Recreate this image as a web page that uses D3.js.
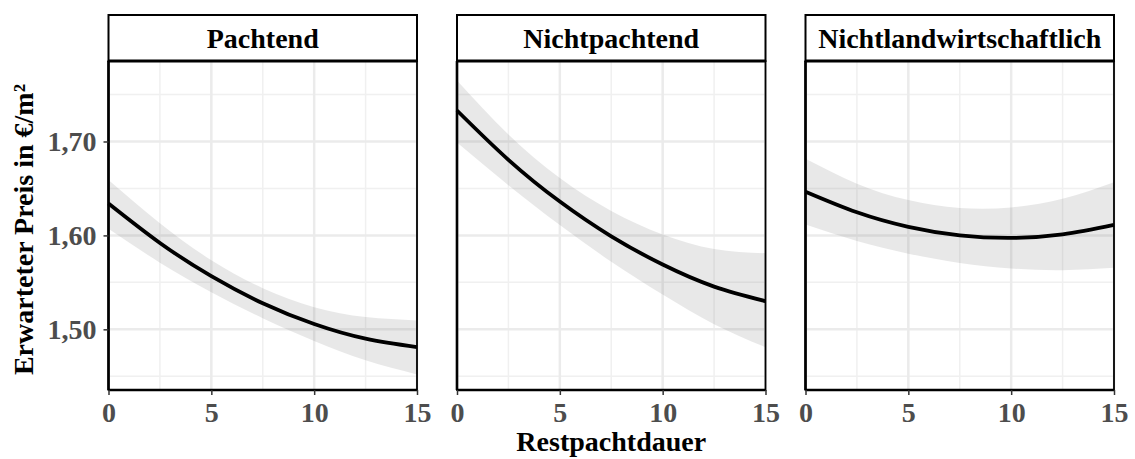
<!DOCTYPE html>
<html><head><meta charset="utf-8">
<script src="https://cdn.jsdelivr.net/npm/d3@7"></script>
<style>body{margin:0;background:#fff}svg{display:block}</style>
</head><body>
<svg id="c" width="1135" height="459"></svg>
<script>
const panels = ["Pachtend", "Nichtpachtend", "Nichtlandwirtschaftlich"];
const xs = [0, 2.5, 5, 7.5, 10, 12.5, 15];
const fitPachtend = [1.634, 1.592, 1.5566, 1.5278, 1.5056, 1.4900, 1.4810];
const lowPachtend = [1.607, 1.571, 1.5396, 1.5118, 1.4876, 1.4670, 1.4520];
const uppPachtend = [1.659, 1.613, 1.5736, 1.5438, 1.5236, 1.5130, 1.5095];
const fitNicht = [1.733, 1.6805, 1.6360, 1.5990, 1.5690, 1.5455, 1.5300];
const lowNicht = [1.699, 1.6535, 1.6110, 1.5720, 1.5370, 1.5055, 1.4810];
const uppNicht = [1.765, 1.7075, 1.6610, 1.6260, 1.6010, 1.5855, 1.5810];
const fitNL = [1.6465, 1.6246, 1.6091, 1.6000, 1.5973, 1.6010, 1.6111];
const lowNL = [1.6115, 1.5941, 1.5806, 1.5707, 1.5648, 1.5630, 1.5656];
const uppNL = [1.6815, 1.6551, 1.6376, 1.6293, 1.6298, 1.6390, 1.6566];
const yTicks = [1.5, 1.6, 1.7];
const yMinor = [1.45, 1.55, 1.65, 1.75];
const xTicks = [0, 5, 10, 15];
const xMinor = [2.5, 7.5, 12.5];
const yTitle = "Erwarteter Preis in €/m²";
const xTitle = "Restpachtdauer";

const series = [
  {name: panels[0], fit: fitPachtend, low: lowPachtend, upp: uppPachtend},
  {name: panels[1], fit: fitNicht, low: lowNicht, upp: uppNicht},
  {name: panels[2], fit: fitNL, low: lowNL, upp: uppNL}
];

const svg = d3.select("#c");
const font = "'Liberation Serif','Times New Roman',serif";
const fs = 28;
const panelLeft = [108.5, 457, 805.5];
const pw = 308.5;
const plotTop = 61, plotBottom = 390, stripTop = 15;

const y = d3.scaleLinear().domain([1.4354, 1.7857]).range([plotBottom, plotTop]);

series.forEach((s, i) => {
  const x0 = panelLeft[i];
  const x = d3.scaleLinear().domain([0, 15]).range([x0, x0 + pw]);
  const g = svg.append("g");
  g.append("rect").attr("x", x0).attr("y", plotTop).attr("width", pw).attr("height", plotBottom - plotTop).attr("fill", "#fff");
  g.selectAll(".ym").data(yMinor).join("line")
    .attr("x1", x0).attr("x2", x0 + pw).attr("y1", d => y(d)).attr("y2", d => y(d))
    .attr("stroke", "#f0f0f0").attr("stroke-width", 1.5);
  g.selectAll(".xm").data(xMinor).join("line")
    .attr("y1", plotTop).attr("y2", plotBottom).attr("x1", d => x(d)).attr("x2", d => x(d))
    .attr("stroke", "#f0f0f0").attr("stroke-width", 1.5);
  g.selectAll(".yM").data(yTicks).join("line")
    .attr("x1", x0).attr("x2", x0 + pw).attr("y1", d => y(d)).attr("y2", d => y(d))
    .attr("stroke", "#ebebeb").attr("stroke-width", 2.5);
  g.selectAll(".xM").data(xTicks).join("line")
    .attr("y1", plotTop).attr("y2", plotBottom).attr("x1", d => x(d)).attr("x2", d => x(d))
    .attr("stroke", "#ebebeb").attr("stroke-width", 2.5);

  const data = xs.map((v, k) => ({x: v, fit: s.fit[k], low: s.low[k], upp: s.upp[k]}));
  const area = d3.area().x(d => x(d.x)).y0(d => y(d.low)).y1(d => y(d.upp)).curve(d3.curveNatural);
  g.append("path").attr("d", area(data)).attr("fill", "#7f7f7f").attr("fill-opacity", 0.18);
  const line = d3.line().x(d => x(d.x)).y(d => y(d.fit)).curve(d3.curveNatural);
  g.append("path").attr("d", line(data)).attr("fill", "none").attr("stroke", "#000").attr("stroke-width", 3.8);

  g.append("rect").attr("x", x0).attr("y", plotTop).attr("width", pw).attr("height", plotBottom - plotTop)
    .attr("fill", "none").attr("stroke", "#000").attr("stroke-width", 1.8);
  g.append("line").attr("x1", x0).attr("x2", x0).attr("y1", plotTop).attr("y2", plotBottom).attr("stroke", "#000").attr("stroke-width", 2.6);
  g.append("line").attr("x1", x0).attr("x2", x0 + pw).attr("y1", plotBottom).attr("y2", plotBottom).attr("stroke", "#000").attr("stroke-width", 2.6);

  g.append("rect").attr("x", x0).attr("y", stripTop).attr("width", pw).attr("height", plotTop - stripTop)
    .attr("fill", "#fff").attr("stroke", "#000").attr("stroke-width", 2);
  g.append("line").attr("x1", x0).attr("x2", x0 + pw).attr("y1", plotTop).attr("y2", plotTop).attr("stroke", "#000").attr("stroke-width", 3);
  g.append("text").attr("x", x0 + pw / 2).attr("y", 48).attr("text-anchor", "middle")
    .attr("font-family", font).attr("font-weight", "bold").attr("font-size", fs).attr("fill", "#000").text(s.name);

  const xa = g.append("g").attr("transform", `translate(0,${plotBottom})`)
    .call(d3.axisBottom(x).tickValues(xTicks).tickSize(5).tickPadding(7).tickFormat(d3.format("d")));
  xa.select(".domain").remove();
  xa.selectAll("line").attr("stroke", "#333").attr("stroke-width", 1.5);
  xa.selectAll("text").attr("font-family", font).attr("font-weight", "bold").attr("font-size", fs).attr("fill", "#4d4d4d");

  if (i === 0) {
    const ya = g.append("g").attr("transform", `translate(${x0},0)`)
      .call(d3.axisLeft(y).tickValues(yTicks).tickSize(5).tickPadding(7).tickFormat(d => d3.format(".2f")(d).replace(".", ",")));
    ya.select(".domain").remove();
    ya.selectAll("line").attr("stroke", "#333").attr("stroke-width", 1.5);
    ya.selectAll("text").attr("font-family", font).attr("font-weight", "bold").attr("font-size", fs).attr("fill", "#4d4d4d");
  }
});

svg.append("text").attr("transform", `translate(33,${(plotTop + plotBottom) / 2 + 4}) rotate(-90)`)
  .attr("text-anchor", "middle").attr("font-family", font).attr("font-weight", "bold").attr("font-size", fs)
  .attr("fill", "#000").text(yTitle);
svg.append("text").attr("x", panelLeft[1] + pw / 2).attr("y", 451).attr("text-anchor", "middle")
  .attr("font-family", font).attr("font-weight", "bold").attr("font-size", fs).attr("fill", "#000").text(xTitle);
</script>
</body></html>
